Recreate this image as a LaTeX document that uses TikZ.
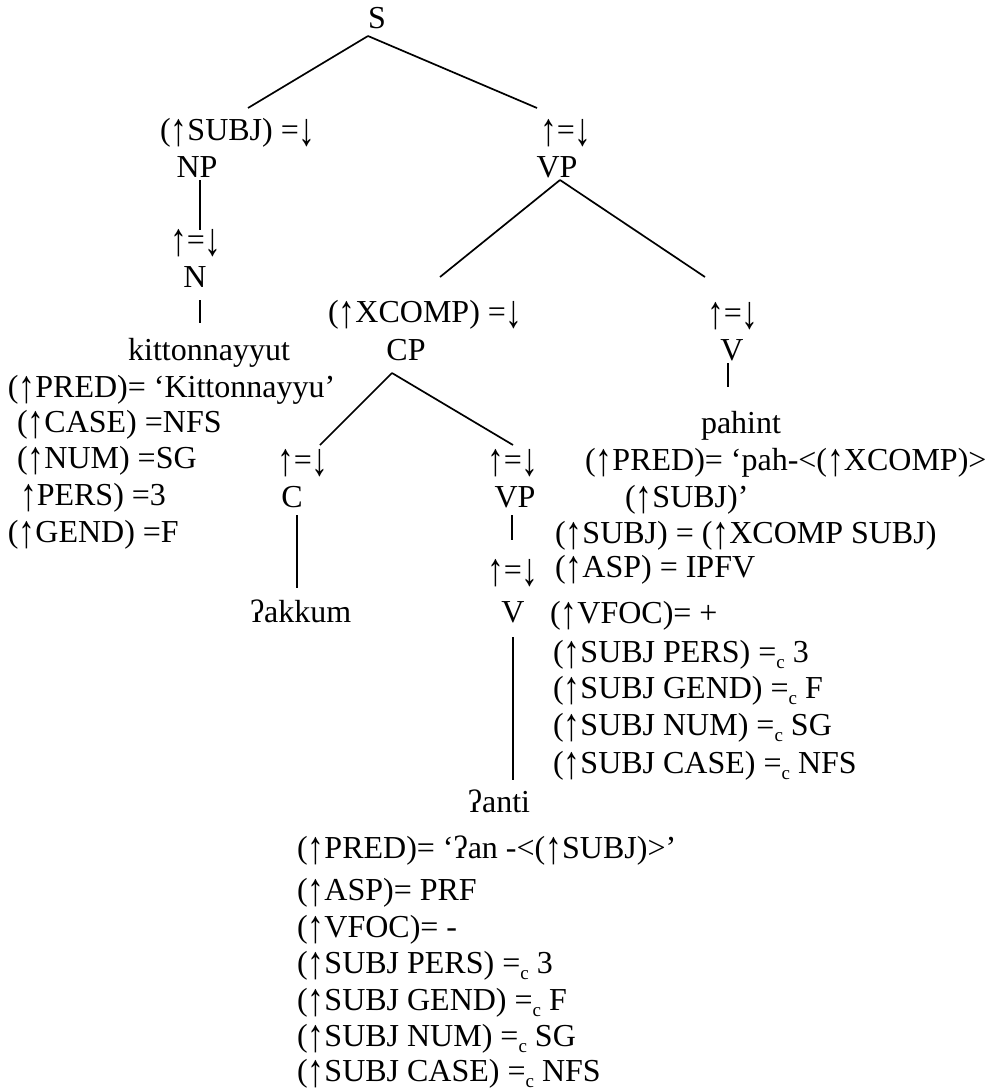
\documentclass[tikz,border=0pt]{standalone}
\usepackage{graphicx}
\usepackage{fontspec}
\setmainfont{Liberation Serif}
\newcommand\csub{\raisebox{-0.2em}{\fontsize{19}{19}\selectfont c}}
\newcommand\up{\raisebox{-0.16em}{\scalebox{1.05}[1.45]{↑}}}
\newcommand\dn{\raisebox{-0.16em}{\scalebox{1.05}[1.45]{↓}}}
\begin{document}
\begin{tikzpicture}[x=1pt,y=-1pt,
  every node/.style={inner sep=0pt,outer sep=0pt,font=\fontsize{32}{36}\selectfont},
  cat/.style={anchor=base},
  ann/.style={anchor=base west},
  branch/.style={line width=1.7pt}]
\useasboundingbox (0,0) rectangle (986,1092);

% root and subject NP
\node[cat] (S) at (377,28) {S};
\node[ann] (aSubj) at (160,140) {(\up SUBJ) =\dn};
\node[cat] (NP) at (197,177) {NP};
\node[ann] (aN) at (170,250) {\up=\dn};
\node[cat] (N) at (195,287) {N};
\node[cat] (kit) at (209,360) {kittonnayyut};
\node[ann] (kitA) at (8,397) {(\up PRED)= ‘Kittonnayyu’};
\node[ann] (kitB) at (17,432) {(\up CASE) =NFS};
\node[ann] (kitC) at (17,468) {(\up NUM) =SG};
\node[ann] (kitD) at (20,505) {\up PERS) =3};
\node[ann] (kitE) at (8,542) {(\up GEND) =F};

% matrix VP
\node[ann] (aVP) at (540,140) {\up=\dn};
\node[cat] (VP) at (557,177) {VP};
\node[ann] (aX) at (328,322) {(\up XCOMP) =\dn};
\node[cat] (CP) at (406,360) {CP};
\node[ann] (aV) at (707,323) {\up=\dn};
\node[cat] (V) at (732,360) {V};
\node[cat] (pah) at (741,433) {pahint};
\node[ann] (pahA) at (585,470) {(\up PRED)= ‘pah-<(\up XCOMP)>};
\node[ann] (pahB) at (625,507) {(\up SUBJ)’};
\node[ann] (pahC) at (555,543) {(\up SUBJ) = (\up XCOMP SUBJ)};
\node[ann] (pahD) at (555,577) {(\up ASP) = IPFV};
\node[ann] (pahE) at (550,623) {(\up VFOC)= +};
\node[ann] (pahF) at (553,662) {(\up SUBJ PERS) =\csub{} 3};
\node[ann] (pahG) at (553,698) {(\up SUBJ GEND) =\csub{} F};
\node[ann] (pahH) at (553,735) {(\up SUBJ NUM) =\csub{} SG};
\node[ann] (pahI) at (553,773) {(\up SUBJ CASE) =\csub{} NFS};

% complement CP
\node[ann] (aC) at (277,470) {\up=\dn};
\node[cat] (C) at (292,507) {C};
\node[ann] (akk) at (250,622) {ʔakkum};
\node[ann] (aVP2) at (487,470) {\up=\dn};
\node[cat] (VP2) at (515,507) {VP};
\node[ann] (aV2) at (487,580) {\up=\dn};
\node[cat] (V2) at (513,622) {V};
\node[cat] (anti) at (499,812) {ʔanti};
\node[ann] (antA) at (297,858) {(\up PRED)= ‘ʔan -<(\up SUBJ)>’};
\node[ann] (antB) at (297,900) {(\up ASP)= PRF};
\node[ann] (antC) at (297,937) {(\up VFOC)= -};
\node[ann] (antD) at (297,973) {(\up SUBJ PERS) =\csub{} 3};
\node[ann] (antE) at (297,1010) {(\up SUBJ GEND) =\csub{} F};
\node[ann] (antF) at (297,1046) {(\up SUBJ NUM) =\csub{} SG};
\node[ann] (antG) at (297,1081) {(\up SUBJ CASE) =\csub{} NFS};

% branches
\draw[branch] ([shift={(-9,8)}]S.base) -- ([shift={(88,-32)}]aSubj.base west);
\draw[branch] ([shift={(-9,8)}]S.base) -- ([shift={(-3,-32)}]aVP.base west);
\draw[branch] ([shift={(3,3)}]NP.base) -- ([shift={(30,-20)}]aN.base west);
\draw[branch] ([shift={(5,13)}]N.base) -- ([shift={(-9,-37)}]kit.base);
\draw[branch] ([shift={(3,3)}]VP.base) -- ([shift={(112,-45)}]aX.base west);
\draw[branch] ([shift={(3,3)}]VP.base) -- ([shift={(-2,-46)}]aV.base west);
\draw[branch] ([shift={(-14,13)}]CP.base) -- ([shift={(43,-25)}]aC.base west);
\draw[branch] ([shift={(-14,13)}]CP.base) -- ([shift={(26,-25)}]aVP2.base west);
\draw[branch] ([shift={(-4,3)}]V.base) -- ([shift={(-13,-46)}]pah.base);
\draw[branch] ([shift={(5,8)}]C.base) -- ([shift={(47,-34)}]akk.base west);
\draw[branch] ([shift={(-3,8)}]VP2.base) -- ([shift={(25,-40)}]aV2.base west);
\draw[branch] ([shift={(0,15)}]V2.base) -- ([shift={(14,-32)}]anti.base);
\end{tikzpicture}
\end{document}
